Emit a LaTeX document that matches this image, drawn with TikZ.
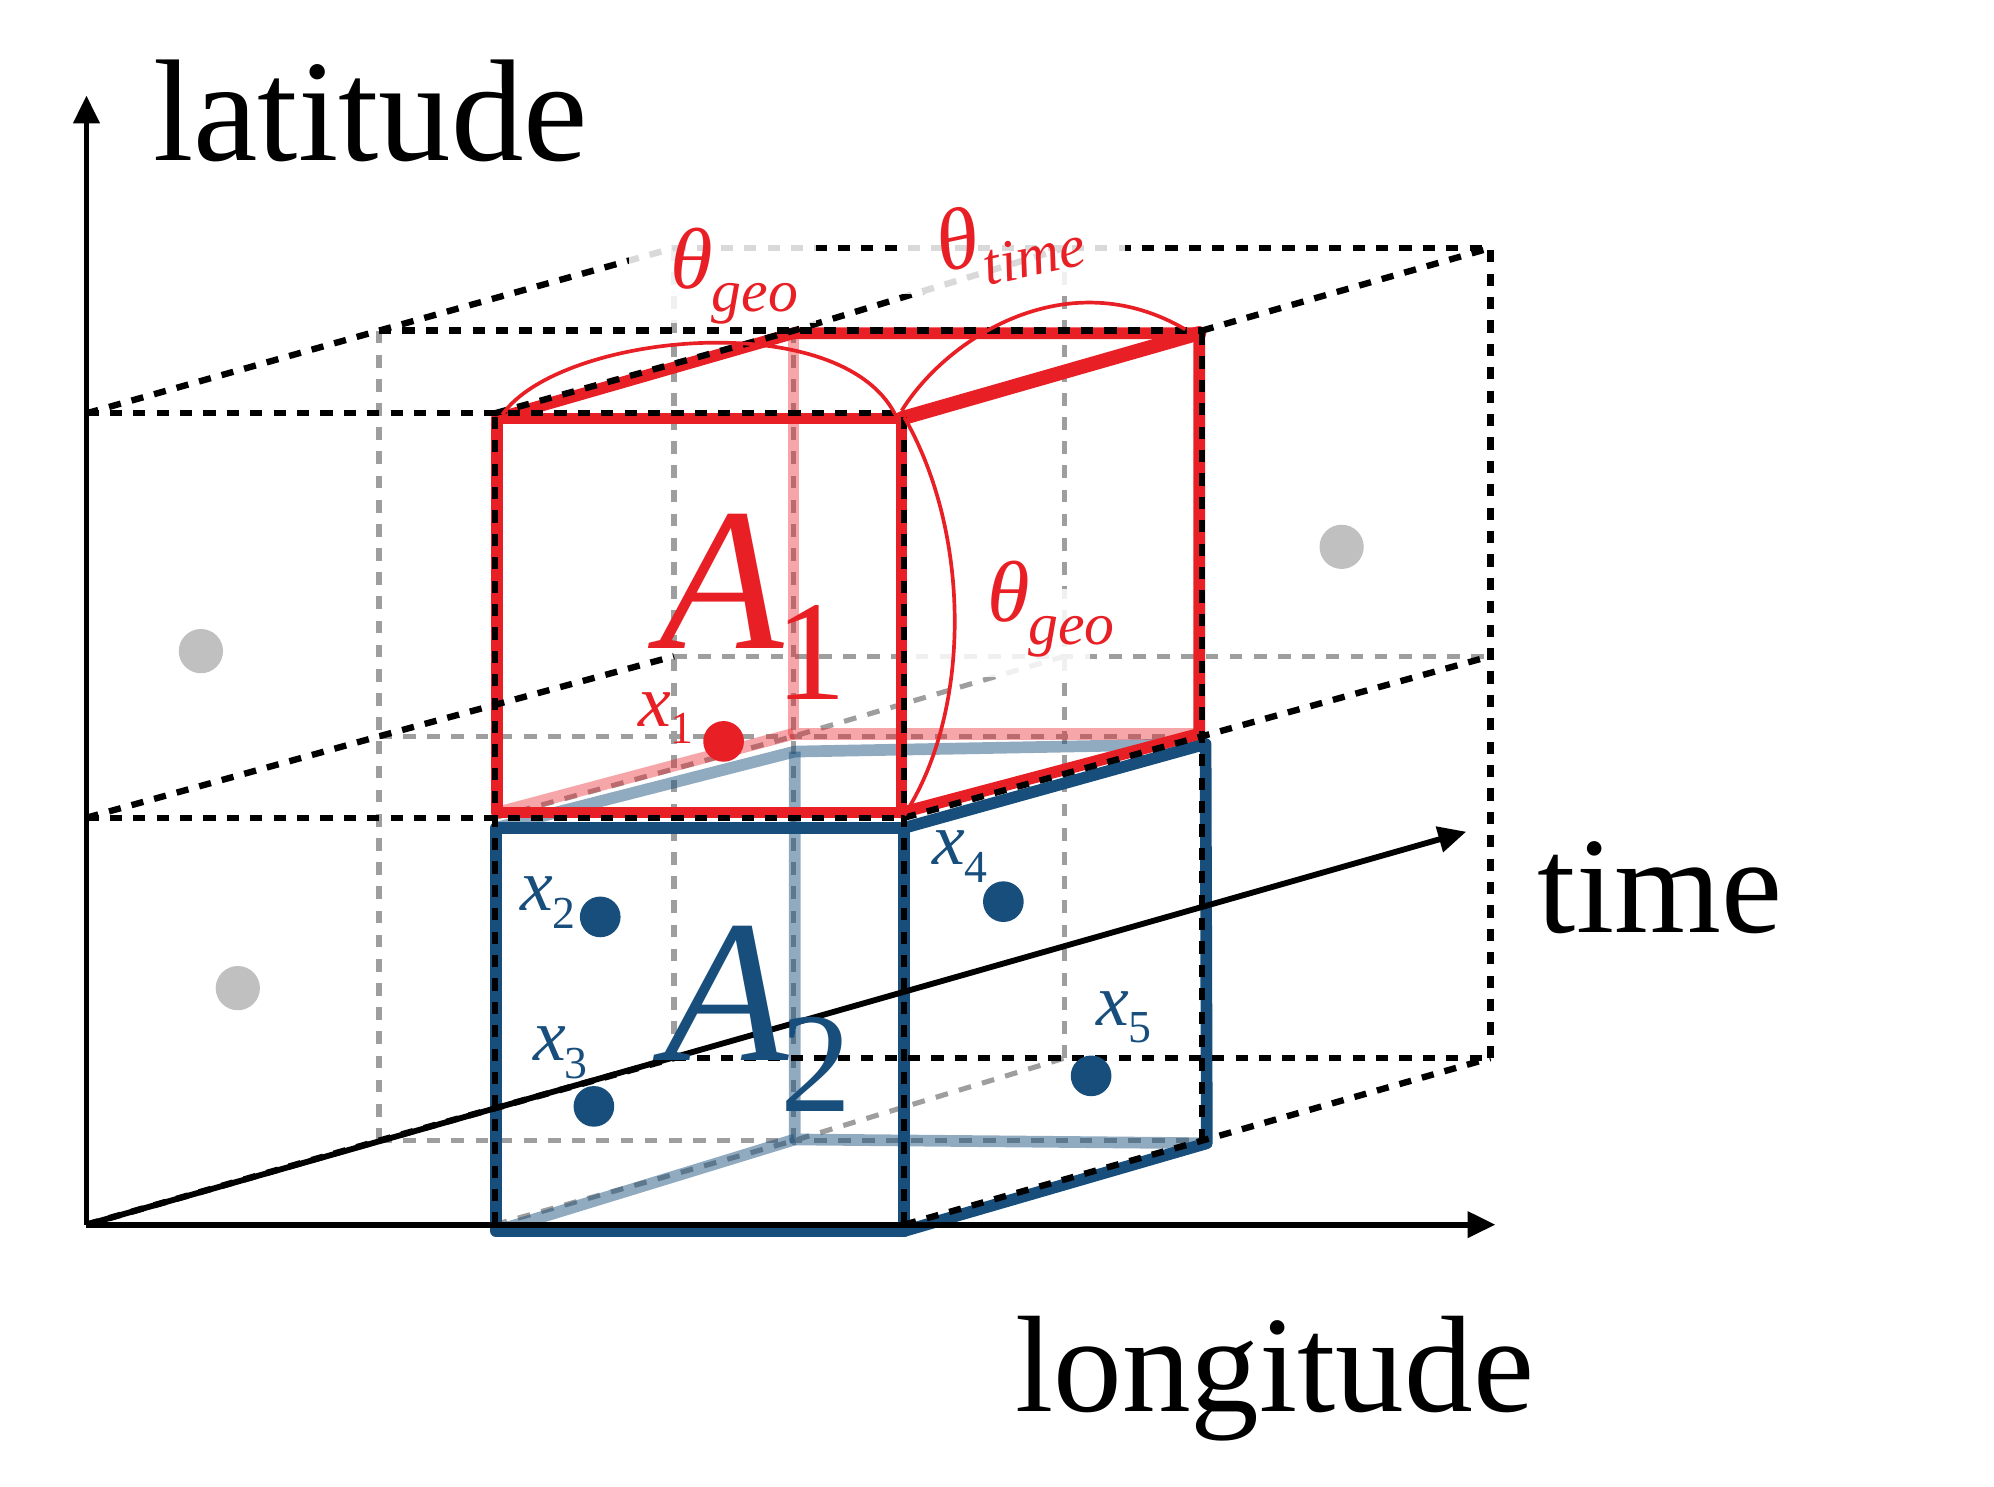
\documentclass[tikz,border=0pt]{standalone}
\usepackage{fontspec}
\setmainfont{Liberation Serif}
\newfontfamily\lserif{Liberation Serif}
\usetikzlibrary{arrows.meta}
\definecolor{cred}{RGB}{232,32,38}
\definecolor{cblue}{RGB}{24,78,124}
\definecolor{cgray}{RGB}{158,158,158}
\definecolor{cdot}{RGB}{192,192,192}
\newcommand{\xlab}[1]{{\lserif\itshape\fontsize{29}{29}\selectfont x\kern-0.5pt\raisebox{-7pt}{\fontsize{18}{18}\selectfont\upshape #1}}}
\newcommand{\thlab}[1]{{\lserif\itshape\fontsize{34}{34}\selectfont θ\kern-0.5pt\raisebox{-9pt}{\fontsize{23.5}{23.5}\selectfont #1}}}
\newcommand{\Alab}[1]{{\lserif\itshape\fontsize{80}{80}\selectfont A\kern-3pt\raisebox{-20pt}{\fontsize{56}{56}\selectfont\upshape #1}}}
\tikzset{
  bdash/.style={black, line width=2.5pt, dash pattern=on 4.8pt off 4.4pt},
  gdash/.style={cgray, line width=2pt, dash pattern=on 5pt off 4.5pt},
  redge/.style={cred, line width=4.6pt, line cap=round, line join=round},
  bedge/.style={cblue, line width=4.6pt, line cap=round, line join=round},
  rhid/.style={cred, opacity=0.4, line width=4.6pt, line join=round},
  bhid/.style={cblue, opacity=0.48, line width=4.6pt, line join=round},
  arcline/.style={cred, line width=1.45pt},
  axisline/.style={black, line width=2.3pt, -{Triangle[length=11pt,width=10pt]}},
  veil/.style={white, opacity=0.85},
  lbl/.style={inner sep=0pt, anchor=base west}
}
\begin{document}
\begin{tikzpicture}[x=0.5pt,y=-0.5pt]
\useasboundingbox (0,0) rectangle (1568,1169);
% grid coordinates: F = front (z=0), M = middle (z=1), B = back (z=2)
\coordinate (F00) at (68,963);  \coordinate (F10) at (389,963); \coordinate (F20) at (711,963);
\coordinate (F01) at (68,643);  \coordinate (F11) at (389,643); \coordinate (F21) at (711,643);
\coordinate (F02) at (68,325);  \coordinate (F12) at (389,325); \coordinate (F22) at (711,325);
\coordinate (M00) at (298,897); \coordinate (M10) at (624,897); \coordinate (M20) at (945,897);
\coordinate (M01) at (298,579); \coordinate (M11) at (624,579); \coordinate (M21) at (945,579);
\coordinate (M02) at (298,260); \coordinate (M12) at (624,260); \coordinate (M22) at (945,260);
\coordinate (B00) at (530,832); \coordinate (B10) at (837,832); \coordinate (B20) at (1172,832);
\coordinate (B01) at (530,516); \coordinate (B11) at (837,516); \coordinate (B21) at (1172,516);
\coordinate (B02) at (530,195); \coordinate (B12) at (837,195); \coordinate (B22) at (1172,195);
% cube A1
\coordinate (a1ftl) at (391,329); \coordinate (a1ftr) at (709,329);
\coordinate (a1fbr) at (709,639); \coordinate (a1fbl) at (391,639);
\coordinate (a1btl) at (624,262); \coordinate (a1btr) at (943,262);
\coordinate (a1bbr) at (943,577); \coordinate (a1bbl) at (624,577);
% cube A2
\coordinate (a2ftl) at (390,651); \coordinate (a2ftr) at (711,651);
\coordinate (a2fbr) at (711,968); \coordinate (a2fbl) at (390,968);
\coordinate (a2btl) at (625,591); \coordinate (a2btr) at (948,585);
\coordinate (a2bbr) at (949,899); \coordinate (a2bbl) at (625,896);
% axis ends
\coordinate (LatEnd) at (68,75);
\coordinate (LonEnd) at (1176,963);
\coordinate (TimeEnd) at (1153,654);

% gray dots
\fill[cdot] (158,512) circle (8.7pt);
\fill[cdot] (187,777) circle (8.7pt);
\fill[cdot] (1055,430) circle (8.7pt);

% gray dashed grid lines
\draw[gdash] (M00) -- (M02);
\draw[gdash] (M10) -- (M12);
\draw[gdash] (B00) -- (B02);
\draw[gdash] (B10) -- (B12);
\draw[gdash] (M00) -- (M20);
\draw[gdash] (M01) -- (M21);
\draw[gdash] (B01) -- (B21);
\draw[gdash] (F11) -- (M11) -- (B11);
\draw[gdash] (F10) -- (M10) -- (B10);

% hidden cube edges
\draw[bhid] (a2ftl) -- (a2btl) -- (a2btr);
\draw[bhid] (a2btl) -- (a2bbl) -- (a2bbr);
\draw[bhid] (a2fbl) -- (a2bbl);
\draw[rhid] (a1btl) -- (a1bbl) -- (a1bbr);
\draw[rhid] (a1fbl) -- (a1bbl);

% cube A2 visible edges
\draw[bedge] (a2ftl) -- (a2ftr) -- (a2fbr) -- (a2fbl) -- cycle;
\draw[bedge] (a2ftr) -- (a2btr) -- (a2bbr) -- (a2fbr);

% cube A1 visible edges
\draw[redge] (a1ftl) -- (a1ftr) -- (a1fbr) -- (a1fbl) -- cycle;
\draw[redge] (a1ftl) -- (a1btl) -- (a1btr) -- (a1bbr) -- (a1fbr);
\draw[redge, line width=5.6pt] (a1ftr) -- (a1btr);

% black dashed grid lines
\draw[bdash] (F02) -- (F22);
\draw[bdash] (F01) -- (F21);
\draw[bdash] (F10) -- (F12);
\draw[bdash] (F20) -- (F22);
\draw[bdash] (M02) -- (M22);
\draw[bdash] (M20) -- (M22);
\draw[bdash] (B02) -- (B22);
\draw[bdash] (B00) -- (B20);
\draw[bdash] (B20) -- (B22);
\draw[bdash] (F02) -- (M02) -- (B02);
\draw[bdash] (F12) -- (M12) -- (B12);
\draw[bdash] (M22) -- (B22);
\draw[bdash] (F01) -- (M01) -- (B01);
\draw[bdash] (F21) -- (M21) -- (B21);
\draw[bdash, yshift=-1.4pt] (F00) -- (M00) -- (B00);
\draw[bdash] (F20) -- (M20) -- (B20);

% translucent backings of the angle labels
\fill[veil] (495,168) rectangle (642,254);
\fill[veil] (705,158) rectangle (885,231);
\fill[veil] (715,463) rectangle (857,532);

% angle arcs
\draw[arcline] (395,326) .. controls (440,262) and (660,240) .. (704,326);
\draw[arcline] (709,323) .. controls (745,265) and (840,205) .. (932,259);
\draw[arcline] (711,328) .. controls (764,420) and (764,560) .. (711,641);

% axes
\draw[axisline] (F00) -- (LatEnd);
\draw[axisline] (F00) -- (LonEnd);
\draw[axisline] (F00) -- (TimeEnd);

% data points
\fill[cred] (569,583) circle (8pt);
\fill[cblue] (472,721) circle (8pt);
\fill[cblue] (467,870) circle (8pt);
\fill[cblue] (789,709) circle (8pt);
\fill[cblue] (858,846) circle (8pt);

% point labels
\node[lbl, text=cred]  (lx1) at (502,571) {\xlab{1}};
\node[lbl, text=cblue] (lx2) at (409,716) {\xlab{2}};
\node[lbl, text=cblue] (lx3) at (419,834) {\xlab{3}};
\node[lbl, text=cblue] (lx4) at (733,680) {\xlab{4}};
\node[lbl, text=cblue] (lx5) at (862,806) {\xlab{5}};

% area labels
\node[lbl, text=cred]  (lA1) at (518,510) {\Alab{1}};
\node[lbl, text=cblue] (lA2) at (522,834) {\Alab{2}};

% theta labels
\node[lbl, text=cred] (thg1) at (527,227) {\thlab{geo}};
\node[lbl, text=cred, rotate=12] (tht) at (741,214) {\thlab{time}};
\node[lbl, text=cred] (thg2) at (776,489) {\thlab{geo}};

% axis labels
\node[lbl, font=\fontsize{57}{57}\selectfont] (llat) at (120,126) {latitude};
\node[lbl, font=\fontsize{54}{54}\selectfont] (ltime) at (1209,733) {time};
\node[lbl, font=\fontsize{54}{54}\selectfont] (llon) at (798,1110) {longitude};
\end{tikzpicture}
\end{document}
